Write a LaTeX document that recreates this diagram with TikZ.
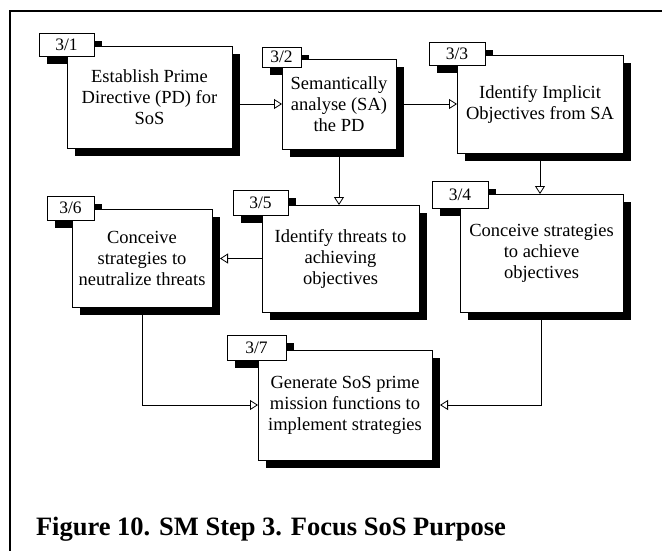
\documentclass[tikz,border=0pt]{standalone}
\usepackage{fontspec}
\setmainfont{Liberation Serif}
\usetikzlibrary{arrows.meta,calc}

% \stepnode{id}{x}{y}{w}{h}{tx}{ty}{tw}{th}{label}{text}
\def\stepnode#1#2#3#4#5#6#7#8#9{%
  \def\pId{#1}\def\pX{#2}\def\pY{#3}\def\pW{#4}\def\pH{#5}%
  \def\pTx{#6}\def\pTy{#7}\def\pTw{#8}\def\pTh{#9}\stepnodeRest}
\def\stepnodeRest#1#2{%
  \node[shade, minimum width=\pTw pt, minimum height=\pTh pt]
    (t\pId s) at ($(\pTx,\pTy)+(8,8)$) {};
  \node[shade, minimum width=\pW pt, minimum height=\pH pt]
    (b\pId s) at ($(\pX,\pY)+(8,8)$) {};
  \node[stepbox, minimum width=\pW pt, minimum height=\pH pt]
    (b\pId) at (\pX,\pY) {#2};
  \node[tagbox, minimum width=\pTw pt, minimum height=\pTh pt]
    (t\pId) at (\pTx,\pTy) {#1};}

\begin{document}
\begin{tikzpicture}[x=1pt,y=-1pt,
  every node/.style={inner sep=0pt, outer sep=0pt},
  stepbox/.style={draw, fill=white, line width=0.8pt, anchor=north west,
    align=center, font=\fontsize{18.5}{21}\selectfont},
  tagbox/.style={draw, fill=white, line width=0.8pt, anchor=north west,
    font=\fontsize{17.5}{19}\selectfont},
  shade/.style={fill=black, anchor=north west},
  flow/.style={line width=0.8pt,
    -{Triangle[open, length=8pt, width=10pt, fill=white]}}]
\useasboundingbox (0,0) rectangle (662,550);

% outer frame (continues past the right and bottom edges)
\draw[line width=2pt] (10,560) -- (10,11) -- (672,11);

\stepnode{1}{67}{46}{165}{102}{39}{33}{55}{23}{3/1}
  {Establish Prime\\Directive (PD) for\\SoS}
\stepnode{2}{282}{59}{114}{90}{262}{47}{39}{20}{3/2}
  {Semantically\\analyse (SA)\\the PD}
\stepnode{3}{457}{55}{166}{98}{429}{42}{56}{23}{3/3}
  {Identify Implicit\\Objectives from SA}
\stepnode{4}{460}{194}{163}{118}{432}{181}{56}{27}{3/4}
  {Conceive strategies\\to achieve\\objectives}
\stepnode{5}{262}{205}{157}{107}{233}{190}{55}{25}{3/5}
  {Identify threats to\\achieving\\objectives}
\stepnode{6}{72}{209}{140}{98}{47}{196}{47}{24}{3/6}
  {Conceive\\strategies to\\neutralize threats}
\stepnode{7}{258}{350}{174}{110}{227}{335}{59}{25}{3/7}
  {Generate SoS prime\\mission functions to\\implement strategies}

% connectors
\draw[flow] (b1.east |- b2.west) -- (b2.west);
\draw[flow] (b2.east) -- (b3.west);
\draw[flow] (b2s.south -| b2.south) -- (b2.south |- b5.north);
\draw[flow] (b3s.south -| b3.south) -- (b3.south |- b4.north);
\draw[flow] (b5.west) -- (b5.west -| b6s.east);
\draw[flow] (b6s.south -| b6.south) |- (b7.west);
\draw[flow] (b4s.south -| b4.south) |- (b7.east -| b7s.east);

% caption
\node[anchor=base west, font=\bfseries\fontsize{26.5}{30}\selectfont]
  (caption) at (36,535) {Figure 10. SM Step 3. Focus SoS Purpose};
\end{tikzpicture}
\end{document}
